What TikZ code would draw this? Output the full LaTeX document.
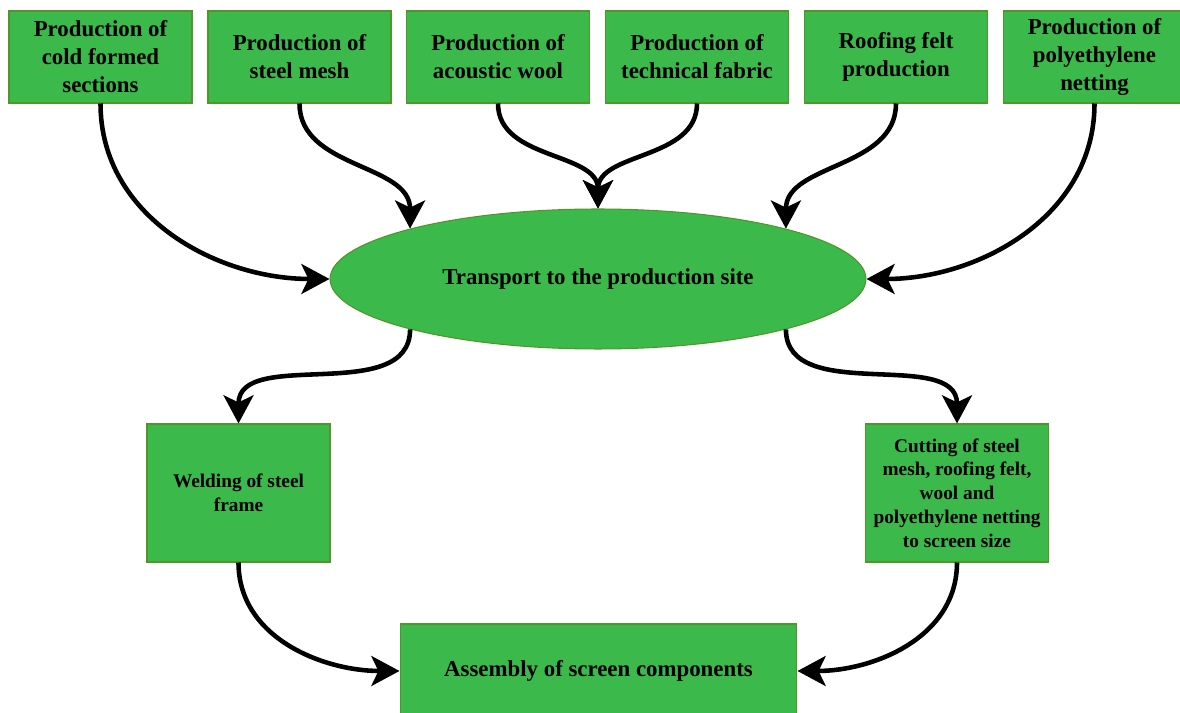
\documentclass[tikz,border=0pt]{standalone}
\usepackage{fontspec}
\setmainfont{Liberation Serif}
\usetikzlibrary{shapes.geometric,arrows.meta}
\definecolor{boxgreen}{RGB}{60,185,75}
\definecolor{boxedge}{RGB}{80,150,40}
\tikzset{
  stagebox/.style={draw=boxedge, fill=boxgreen, line width=0.6pt,
    minimum width=3.66cm, minimum height=1.84cm, inner sep=0pt,
    align=center, font=\fontsize{13}{15.9}\selectfont\bfseries},
  smallbox/.style={stagebox, minimum height=2.76cm,
    font=\fontsize{11}{13.5}\selectfont\bfseries},
  flow/.style={line width=2.6pt, -{Stealth[length=16pt,width=17pt,inset=4pt]}}
}
\begin{document}
\begin{tikzpicture}[x=0.02cm,y=0.02cm]
  \useasboundingbox (0,0) rectangle (1180,713);

  % Define top row of production steps
  \node[stagebox] (cold) at (100.5,656) {Production of\\cold formed\\sections};
  \node[stagebox] (mesh) at (299.5,656) {Production of\\steel mesh};
  \node[stagebox] (wool) at (498,656) {Production of\\acoustic wool};
  \node[stagebox] (fabric) at (697,656) {Production of\\technical fabric};
  \node[stagebox] (felt) at (896,656) {Roofing felt\\production};
  \node[stagebox] (netting) at (1094.5,656) {Production of\\polyethylene\\netting};

  % Transport ellipse
  \node[ellipse, draw=boxedge, fill=boxgreen, line width=0.6pt,
    minimum width=10.72cm, minimum height=2.8cm, inner sep=0pt,
    font=\fontsize{13}{15.9}\selectfont\bfseries] (transport) at (598,434)
    {Transport to the production site};

  % Processing steps
  \node[smallbox] (weld) at (238.5,220) {Welding of steel\\frame};
  \node[smallbox] (cut) at (957,220) {Cutting of steel\\mesh, roofing felt,\\wool and\\polyethylene netting\\to screen size};
  \node[stagebox, minimum width=7.94cm, minimum height=1.88cm] (assembly) at (598.5,42)
    {Assembly of screen components};

  % Draw supply arrows
  \draw[flow] (cold.south) to[out=-90,in=180] (transport.west);
  \draw[flow] (mesh.south) to[out=-90,in=90] (transport.165);
  \draw[flow] (wool.south) to[out=-90,in=90] (transport.north);
  \draw[flow] (fabric.south) to[out=-90,in=90] (transport.north);
  \draw[flow] (felt.south) to[out=-90,in=90] (transport.15);
  \draw[flow] (netting.south) to[out=-90,in=0] (transport.east);

  % Draw processing arrows
  \draw[flow] (transport.195) to[out=-90,in=90] (weld.north);
  \draw[flow] (transport.345) to[out=-90,in=90] (cut.north);
  \draw[flow] (weld.south) to[out=-90,in=180] (assembly.west);
  \draw[flow] (cut.south) to[out=-90,in=0] (assembly.east);
\end{tikzpicture}
\end{document}
